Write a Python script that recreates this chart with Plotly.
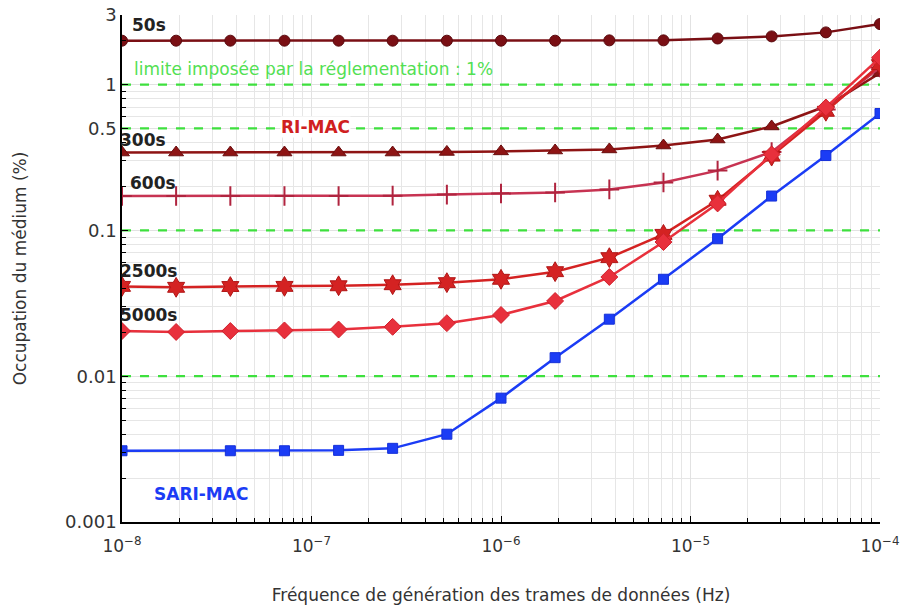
import math
import plotly.graph_objects as go

freq = [1e-8, 1.93e-8, 3.73e-8, 7.2e-8, 1.39e-7, 2.68e-7, 5.18e-7, 1e-6,
        1.93e-6, 3.73e-6, 7.2e-6, 1.39e-5, 2.68e-5, 5.18e-5, 1e-4]

ri_50s = [2.0, 2.0, 2.0, 2.0, 2.0, 2.0, 2.0, 2.0, 2.0, 2.01, 2.01, 2.07, 2.14, 2.28, 2.6]
ri_300s = [0.342, 0.342, 0.342, 0.342, 0.342, 0.342, 0.345, 0.348, 0.353, 0.359, 0.382, 0.42, 0.516, 0.71, 1.2]
ri_600s = [0.172, 0.172, 0.172, 0.172, 0.172, 0.173, 0.176, 0.179, 0.182, 0.191, 0.213, 0.257, 0.345, 0.674, 1.31]
ri_2500s = [0.0413, 0.0407, 0.0412, 0.0413, 0.0417, 0.0424, 0.0438, 0.0462, 0.0521, 0.065, 0.0939, 0.161, 0.323, 0.656, 1.37]
ri_5000s = [0.0204, 0.0201, 0.0204, 0.0206, 0.0209, 0.0218, 0.0231, 0.0263, 0.0328, 0.0479, 0.0832, 0.153, 0.332, 0.696, 1.53]
sari = [0.00308, None, 0.00308, 0.00308, 0.0031, 0.0032, 0.0040, 0.00707, 0.0134, 0.0246, 0.0462, 0.0877, 0.172, 0.326, 0.633]

limits = [1, 0.5, 0.1, 0.01]

x_ticks = [1e-8, 1e-7, 1e-6, 1e-5, 1e-4]
x_ticktext = ["10<sup>−8</sup>", "10<sup>−7</sup>", "10<sup>−6</sup>", "10<sup>−5</sup>", "10<sup>−4</sup>"]
y_ticks = [0.001, 0.01, 0.1, 0.5, 1, 3]
y_ticktext = ["0.001", "0.01", "0.1", "0.5", "1", "3"]

fig = go.Figure()

# regulatory limit lines
for lv in limits:
    fig.add_trace(go.Scatter(x=[freq[0], freq[-1]], y=[lv, lv], mode="lines",
                             line=dict(color="#3ee03e", width=2.2, dash="dash"),
                             hoverinfo="skip", showlegend=False))

series = [
    ("50s", ri_50s, "#7a0f14", "circle", 11, "#5a0a0e"),
    ("300s", ri_300s, "#8e1414", "triangle-up", 13, "#6a0e0e"),
    ("600s", ri_600s, "#c73352", "cross-thin", 14, "#b0243f"),
    ("2500s", ri_2500s, "#d42222", "hexagram", 15, "#b01515"),
    ("5000s", ri_5000s, "#e8303c", "diamond", 13, "#d0202c"),
    ("SARI-MAC", sari, "#1b3cf5", "square", 10, "#1530d8"),
]
for name, ys, col, sym, size, lc in series:
    fig.add_trace(go.Scatter(
        x=freq, y=ys, mode="lines+markers", name=name, connectgaps=True,
        line=dict(color=col, width=2.5),
        marker=dict(symbol=sym, size=size, color=col,
                    line=dict(color=lc, width=2 if sym == "cross-thin" else 1)),
        showlegend=False))

L = math.log10
LBL = 17

labels = [
    ("50s", 1.10e-8, 2.58, 0),
    ("300s", 1e-8, 0.42, -4),
    ("600s", 1.076e-8, 0.213, 0),
    ("2500s", 1e-8, 0.0524, -4),
    ("5000s", 1e-8, 0.0262, -4),
]
for txt, xx, yy, sh in labels:
    fig.add_annotation(x=L(xx), y=L(yy), xref="x", yref="y", text=txt, showarrow=False,
                       xanchor="left", yanchor="middle", xshift=sh,
                       font=dict(family="DejaVu Sans", size=LBL, color="#222222", weight="bold"))

fig.add_annotation(x=L(1.13e-8), y=L(1.27), text="limite imposée par la réglementation : 1%",
                   showarrow=False, xanchor="left", yanchor="middle",
                   font=dict(family="DejaVu Sans", size=17, color="#52e052"))
fig.add_annotation(x=L(6.8e-8), y=L(0.51), text="RI-MAC", showarrow=False,
                   xanchor="left", yanchor="middle", bgcolor="white", borderpad=0,
                   font=dict(family="DejaVu Sans", size=LBL, color="#d02020", weight="bold"))
fig.add_annotation(x=L(1.44e-8), y=L(0.00155), text="SARI-MAC", showarrow=False,
                   xanchor="left", yanchor="middle",
                   font=dict(family="DejaVu Sans", size=LBL, color="#1b3cf5", weight="bold"))

fig.update_xaxes(type="log", range=[-8, -4], tickvals=x_ticks, ticktext=x_ticktext,
                 showline=True, linecolor="black", linewidth=1.5,
                 ticks="inside", ticklen=6, tickcolor="black",
                 showgrid=True, gridcolor="#e2e2e2", gridwidth=1,
                 minor=dict(ticks="inside", ticklen=4, tickcolor="black",
                            showgrid=True, gridcolor="#e6e6e6", dtick="D1"),
                 tickfont=dict(family="DejaVu Sans", size=17, color="#333333"),
                 ticklabelstandoff=8, ticklabeloverflow="allow",
                 title=dict(text="Fréquence de génération des trames de données (Hz)",
                            font=dict(family="DejaVu Sans", size=17, color="#333333"),
                            standoff=34),
                 automargin=False, zeroline=False)
fig.update_yaxes(type="log", range=[-3, 0.47715], tickvals=y_ticks, ticktext=y_ticktext,
                 showline=True, linecolor="black", linewidth=1.5,
                 ticks="inside", ticklen=6, tickcolor="black",
                 showgrid=True, gridcolor="#e2e2e2", gridwidth=1,
                 minor=dict(ticks="inside", ticklen=4, tickcolor="black",
                            showgrid=True, gridcolor="#e6e6e6", dtick="D1"),
                 tickfont=dict(family="DejaVu Sans", size=18, color="#333333"),
                 ticklabeloverflow="allow",
                 title=dict(text="Occupation du médium (%)",
                            font=dict(family="DejaVu Sans", size=17, color="#333333"),
                            standoff=34),
                 automargin=False, zeroline=False)

fig.update_layout(width=900, height=608, margin=dict(l=122, r=20, t=15, b=86),
                  plot_bgcolor="white", paper_bgcolor="white")

fig.write_html("out.html", config={"displayModeBar": False},
               post_script="document.body.style.margin='0';document.body.style.overflow='hidden';")
